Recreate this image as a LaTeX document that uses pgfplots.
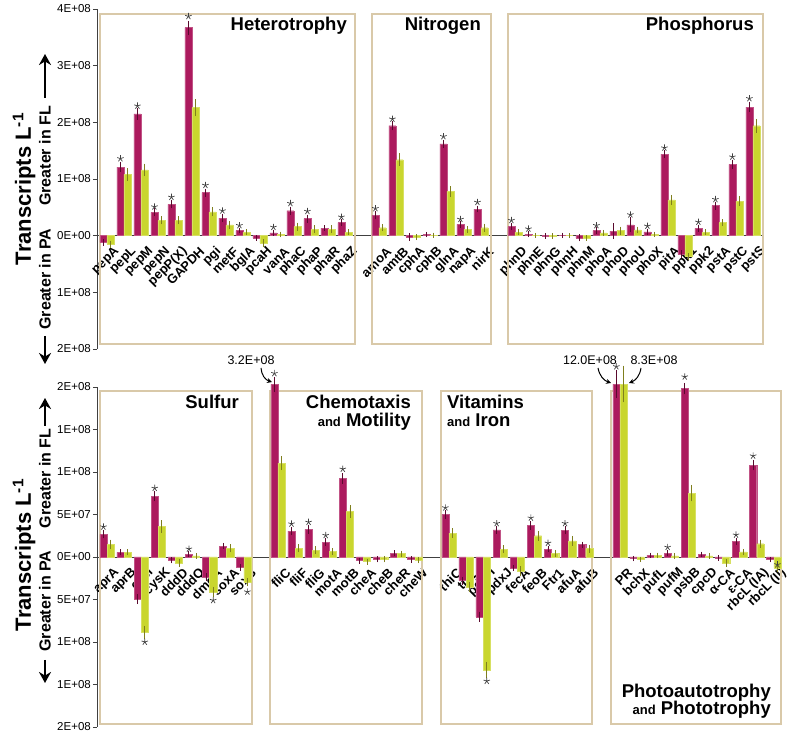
\documentclass[border=0pt]{standalone}
\usepackage{fontspec}
\setmainfont{Liberation Sans}
\usepackage{pgfplots}
\pgfplotsset{compat=1.18}
\usepackage{pgfplotstable}
\usetikzlibrary{arrows.meta}
\definecolor{mag}{HTML}{AC1A5E}
\definecolor{lime}{HTML}{C9D62E}
\definecolor{magerr}{HTML}{5A0A2E}
\definecolor{limeerr}{HTML}{7F7F1E}
\definecolor{boxc}{HTML}{D9C9A9}
\definecolor{axc}{HTML}{404040}
\newcommand{\fs}[1]{\fontsize{#1}{#1}\selectfont}

\pgfplotstableread{
i m me g ge
0 -0.12 0.02 -0.15 0.02
1 1.21 0.05 1.08 0.07
2 2.15 0.06 1.16 0.07
3 0.41 0.03 0.27 0.03
4 0.55 0.03 0.27 0.03
5 3.67 0.08 2.26 0.11
6 0.76 0.03 0.42 0.04
7 0.31 0.03 0.19 0.03
8 0.09 0.01 0.06 0.01
9 -0.04 0.01 -0.13 0.03
10 0.05 0.01 0.02 0.01
11 0.44 0.03 0.16 0.03
12 0.30 0.03 0.11 0.03
13 0.13 0.01 0.11 0.03
14 0.23 0.02 0.06 0.01
16 0.36 0.03 0.14 0.02
17 1.94 0.04 1.34 0.07
18 -0.02 0.03 -0.03 0.01
19 0.02 0.005 0.01 0.005
20 1.62 0.03 0.78 0.05
21 0.20 0.02 0.11 0.02
22 0.47 0.02 0.14 0.03
24 0.16 0.02 0.06 0.01
25 0.025 0.01 0.005 0.005
26 -0.005 0.005 -0.005 0.005
27 0.01 0.005 0.0 0.005
28 -0.04 0.02 -0.04 0.01
29 0.09 0.02 0.05 0.01
30 0.08 0.10 0.09 0.03
31 0.19 0.09 0.10 0.02
32 0.065 0.02 0.025 0.005
33 1.44 0.03 0.63 0.05
34 -0.33 0.03 -0.37 0.02
35 0.13 0.02 0.06 0.01
36 0.53 0.03 0.23 0.02
37 1.26 0.04 0.61 0.05
38 2.27 0.05 1.94 0.08
}\topdata

\pgfplotstableread{
x y
0.79 1.36
1.79 2.29
2.79 0.51
3.79 0.68
4.79 3.87
5.79 0.89
6.79 0.44
7.79 0.18
9.79 0.15
10.79 0.57
11.79 0.43
13.79 0.33
15.79 0.48
16.79 2.06
19.79 1.75
20.79 0.29
21.79 0.59
23.79 0.27
24.79 0.12
28.79 0.18
30.79 0.37
31.79 0.17
32.79 1.55
34.79 0.24
35.79 0.64
36.79 1.39
37.79 2.42
}\topstars

\pgfplotstableread{
i m me g ge
0 2.66 0.2 1.48 0.3
1 0.55 0.08 0.55 0.1
2 -4.96 0.3 -8.87 0.5
3 7.15 0.35 3.59 0.45
4 -0.39 0.1 -0.7 0.2
5 0.31 0.08 0.12 0.05
6 -2.38 0.2 -4.1 0.3
7 1.29 0.1 1.02 0.2
8 -1.25 0.15 -3.0 0.2
10 20.3 0.6 11.05 0.55
11 3.05 0.2 1.02 0.2
12 3.24 0.25 0.82 0.15
13 1.76 0.2 0.63 0.12
14 9.26 0.35 5.35 0.45
15 -0.43 0.1 -0.55 0.1
16 -0.27 0.08 -0.27 0.08
17 0.43 0.08 0.39 0.08
18 -0.31 0.1 -0.39 0.08
20 5.0 0.25 2.81 0.3
21 -2.77 0.2 -3.52 0.3
22 -7.03 0.3 -13.3 0.7
23 3.2 0.2 0.94 0.2
24 -1.29 0.1 -1.68 0.3
25 3.71 0.25 2.5 0.3
26 0.94 0.1 0.43 0.15
27 3.125 0.2 1.91 0.3
28 1.45 0.1 0.98 0.2
30 20.35 1.4 20.35 1.9
31 -0.2 0.05 -0.27 0.05
32 0.2 0.05 0.2 0.05
33 0.43 0.1 0.12 0.05
34 19.8 0.4 7.5 0.7
35 0.31 0.05 0.12 0.03
36 -0.1 0.05 -0.7 0.2
37 1.84 0.15 0.59 0.1
38 10.8 0.35 1.56 0.2
39 -0.3 0.05 -1.33 0.2
}\botdata

\pgfplotstableread{
x y
-0.21 3.55
2.21 -10.0
2.79 8.1
4.79 0.95
6.21 -5.1
8.21 -4.1
9.79 21.6
10.79 3.9
11.79 4.1
12.79 2.55
13.79 10.35
19.79 5.8
22.21 -14.6
22.79 3.95
24.79 4.6
25.79 1.64
26.79 3.95
29.79 22.4
32.79 1.15
33.79 21.2
36.79 2.6
37.79 11.9
39.21 -0.9
}\botstars

\pgfplotsset{
  common/.style={
    scale only axis, clip=false,
    anchor=south west,
    axis x line=middle, axis y line=left,
    x axis line style={-, draw=axc, line width=0.8pt},
    y axis line style={-, draw=axc, line width=0.8pt},
    tick align=outside,
    major tick length=4pt,
    ytick style={draw=axc, line width=0.8pt},
    xtick style={draw=none},
    yticklabel style={font=\fs{11.5}, inner sep=2pt},
    xticklabel style={xshift=11pt, yshift=-9pt, rotate=45, anchor=east, font=\bfseries\fs{13}, inner sep=1pt},
  },
  magbar/.style={ybar, bar width=0.42, bar shift=0, fill=mag, draw=mag!75!white, line width=0.4pt,
    error bars/.cd, y dir=both, y explicit, error mark=-,
    error bar style={draw=magerr, line width=0.9pt},
    error mark options={draw=magerr, line width=0.9pt, mark size=2.3pt}},
  limebar/.style={ybar, bar width=0.42, bar shift=0, fill=lime, draw=lime!75!white, line width=0.4pt,
    error bars/.cd, y dir=both, y explicit, error mark=-,
    error bar style={draw=limeerr, line width=0.9pt},
    error mark options={draw=limeerr, line width=0.9pt, mark size=2.3pt}},
  stars/.style={only marks, mark=star, mark size=3.4pt, mark options={draw=black!75, line width=0.7pt}},
}

\begin{document}
\begin{tikzpicture}
\useasboundingbox (0pt,0pt) rectangle (796pt,734pt);

% ---------------- top panel ----------------
\begin{axis}[common, at={(97pt,385pt)}, width=666pt, height=340pt,
  xmin=-0.588, xmax=38.59, ymin=-2, ymax=4,
  ytick={-2,-1,0,1,2,3,4},
  yticklabels={2E+08,1E+08,0E+00,1E+08,2E+08,3E+08,4E+08},
  xtick={0,1,2,3,4,5,6,7,8,9,10,11,12,13,14,16,17,18,19,20,21,22,24,25,26,27,28,29,30,31,32,33,34,35,36,37,38},
  xticklabels={pepA,pepL,pepM,pepN,pepP(X),GAPDH,pgi,metF,bglA,pcaH,vanA,phaC,phaP,phaR,phaZ,amoA,amtB,cphA,cphB,glnA,napA,nirK,phnD,phnE,phnG,phnH,phnM,phoA,phoD,phoU,phoX,pitA,ppk1,ppk2,pstA,pstC,pstS},
]
\draw[boxc, line width=2pt] (axis cs:-0.41,-1.91) rectangle (axis cs:14.6,3.91);
\draw[boxc, line width=2pt] (axis cs:15.6,-1.91) rectangle (axis cs:22.6,3.91);
\draw[boxc, line width=2pt] (axis cs:23.6,-1.91) rectangle (axis cs:38.59,3.91);
\addplot[magbar] table[x expr=\thisrow{i}-0.21, y=m, y error=me]{\topdata};
\addplot[limebar] table[x expr=\thisrow{i}+0.21, y=g, y error=ge]{\topdata};
\addplot[stars] table[x=x, y=y]{\topstars};
\end{axis}

% ---------------- bottom panel ----------------
\begin{axis}[common, at={(97pt,7pt)}, width=684pt, height=340pt,
  xmin=-0.585, xmax=39.42, ymin=-20, ymax=20,
  ytick={-20,-15,-10,-5,0,5,10,15,20},
  yticklabels={2E+08,1E+08,1E+08,5E+07,0E+00,5E+07,1E+08,1E+08,2E+08},
  xtick={0,1,2,3,4,5,6,7,8,10,11,12,13,14,15,16,17,18,20,21,22,23,24,25,26,27,28,30,31,32,33,34,35,36,37,38,39},
  xticklabels={aprA,aprB,cysI,cysK,dddD,dddQ,dmdA,soxA,soxB,fliC,fliF,fliG,motA,motB,cheA,cheB,cheR,cheW,thiC,thiL,pdxH,pdxJ,fecA,feoB,Ftr1,afuA,afuB,PR,bchX,pufL,pufM,psbB,cpcD,α-CA,ε-CA,{rbcL (IA)},{rbcL (II)}},
]
\draw[boxc, line width=2pt] (axis cs:-0.41,-19.65) rectangle (axis cs:8.48,19.53);
\draw[boxc, line width=2pt] (axis cs:9.53,-19.65) rectangle (axis cs:18.42,19.53);
\draw[boxc, line width=2pt] (axis cs:19.53,-19.65) rectangle (axis cs:28.36,19.53);
\draw[boxc, line width=2pt] (axis cs:29.47,-19.65) rectangle (axis cs:39.4,19.53);
\addplot[magbar] table[x expr=\thisrow{i}-0.21, y=m, y error=me]{\botdata};
\addplot[limebar] table[x expr=\thisrow{i}+0.21, y=g, y error=ge]{\botdata};
\addplot[stars] table[x=x, y=y]{\botstars};
\end{axis}

% ---------------- group titles ----------------
\begin{scope}[every node/.style={inner sep=0pt, font=\bfseries\fs{18.5}}]
\node[anchor=base east] at (347pt,703.3pt) {Heterotrophy};
\node[anchor=base east] at (481pt,703.3pt) {Nitrogen};
\node[anchor=base east] at (754pt,703.3pt) {Phosphorus};
\node[anchor=base east] at (239pt,325pt) {Sulfur};
\node[anchor=base east] at (411pt,325pt) {Chemotaxis};
\node[anchor=base east] at (411pt,307pt) {{\fs{13}and} Motility};
\node[anchor=base west] at (447pt,325pt) {Vitamins};
\node[anchor=base west] at (447pt,307pt) {{\fs{13}and} Iron};
\node[anchor=base east] at (771pt,36pt) {Photoautotrophy};
\node[anchor=base east] at (771pt,19pt) {{\fs{13}and} Phototrophy};
\end{scope}

% ---------------- y labels ----------------
\node[rotate=90, font=\bfseries\fs{22}, inner sep=0pt] at (24pt,545pt) {Transcripts L\textsuperscript{-1}};
\node[rotate=90, font=\bfseries\fs{22}, inner sep=0pt] at (24pt,179pt) {Transcripts L\textsuperscript{-1}};
\begin{scope}[every node/.style={rotate=90, font=\bfseries\fs{16}, inner sep=0pt}]
\node at (45pt,578pt) {Greater in FL};
\node at (45pt,455pt) {Greater in PA};
\node at (45pt,255.5pt) {Greater in FL};
\node at (45pt,133pt) {Greater in PA};
\end{scope}
\begin{scope}[line width=2pt, -{Stealth[length=11pt,width=12pt]}]
\draw (45pt,636pt) -- (45pt,680pt);
\draw (45pt,398pt) -- (45pt,370pt);
\draw (45pt,308pt) -- (45pt,336pt);
\draw (45pt,74pt) -- (45pt,51pt);
\end{scope}

% ---------------- off-scale annotations ----------------
\node[font=\fs{12.5}, inner sep=0pt] at (251pt,374pt) {3.2E+08};
\draw[-{Stealth[length=5pt,width=5pt]}, line width=1pt] (261pt,366pt) to[bend right=35] (272pt,352pt);
\node[font=\fs{12.5}, inner sep=0pt] at (590pt,374pt) {12.0E+08};
\node[font=\fs{12.5}, inner sep=0pt] at (654pt,374pt) {8.3E+08};
\draw[-{Stealth[length=5pt,width=5pt]}, line width=1pt] (598pt,366pt) to[bend right=30] (611pt,351pt);
\draw[-{Stealth[length=5pt,width=5pt]}, line width=1pt] (641pt,366pt) to[bend left=30] (629pt,351pt);
\end{tikzpicture}
\end{document}
